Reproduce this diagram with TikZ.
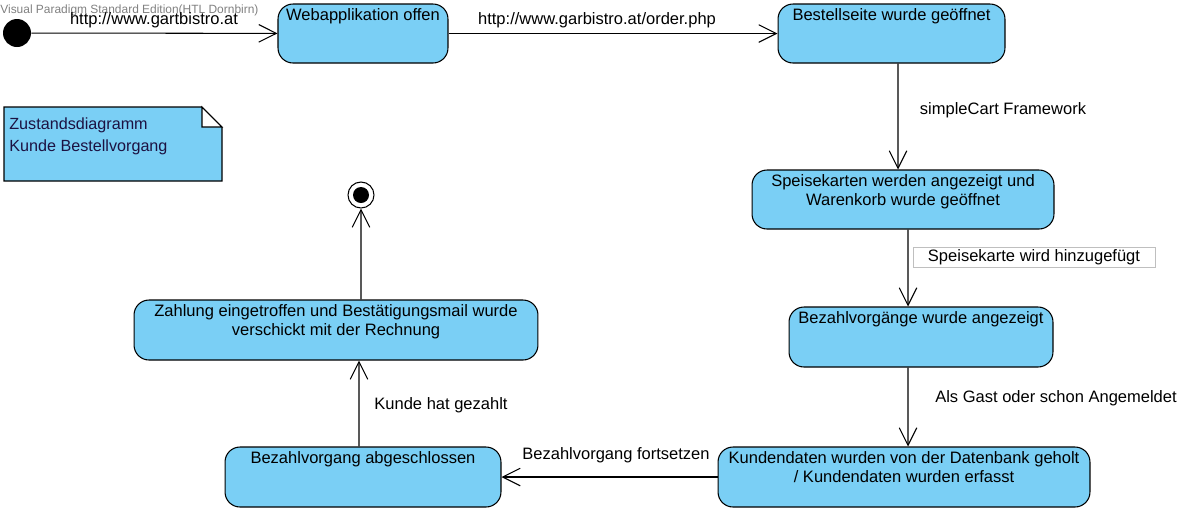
\documentclass[tikz,border=0pt]{standalone}
\usepackage{fontspec}
\setmainfont{Liberation Sans}
\usetikzlibrary{arrows.meta}
\definecolor{statefill}{RGB}{122,207,245}
\definecolor{notetext}{RGB}{28,18,66}

\begin{document}
\begin{tikzpicture}[x=0.02cm,y=-0.02cm,
  state/.style={draw,fill=statefill,rounded corners=0.3cm,line width=0.6pt,inner sep=0pt},
  statetext/.style={anchor=north,inner sep=0pt,align=center,font=\fontsize{9.4}{10.8}\selectfont},
  trans/.style={line width=0.6pt,-{Straight Barb[length=10pt,width=10pt]}},
  translbl/.style={inner sep=0pt,font=\fontsize{9.4}{10.8}\selectfont}]
\useasboundingbox (0,0) rectangle (1190,515);

\node[gray,anchor=west,inner sep=0pt,font=\fontsize{6.8}{8}\selectfont] (vp) at (0,10) {Visual Paradigm Standard Edition(HTL Dornbirn)};

% start / final
\node[circle,fill=black,minimum size=0.56cm,inner sep=0pt] (start) at (17,33) {};
\node[circle,draw,line width=0.6pt,minimum size=0.52cm,inner sep=0pt] (final) at (361,195) {};
\fill (final.center) circle (0.16cm);

% states
\node[state,minimum width=3.4cm,minimum height=1.18cm] (web) at (363,33.5) {};
\node[state,minimum width=4.54cm,minimum height=1.18cm] (bestell) at (891.5,33.5) {};
\node[state,minimum width=6.04cm,minimum height=1.18cm] (speise) at (903,199.5) {};
\node[state,minimum width=5.28cm,minimum height=1.2cm] (bezahl) at (921,337) {};
\node[state,minimum width=7.44cm,minimum height=1.2cm] (kunden) at (904,477) {};
\node[state,minimum width=5.52cm,minimum height=1.2cm] (abgeschl) at (363,477) {};
\node[state,minimum width=8.08cm,minimum height=1.2cm] (zahlung) at (336,330) {};

\node[statetext] (webt) at ([yshift=-0.1cm]web.north) {Webapplikation offen};
\node[statetext] (bestellt) at ([yshift=-0.1cm]bestell.north) {Bestellseite wurde geöffnet};
\node[statetext] (speiset) at ([yshift=-0.1cm]speise.north) {Speisekarten werden angezeigt und\\Warenkorb wurde geöffnet};
\node[statetext] (bezahlt) at ([yshift=-0.1cm]bezahl.north) {Bezahlvorgänge wurde angezeigt};
\node[statetext] (kundent) at ([yshift=-0.1cm]kunden.north) {Kundendaten wurden von der Datenbank geholt\\/ Kundendaten wurden erfasst};
\node[statetext] (abgeschlt) at ([yshift=-0.1cm]abgeschl.north) {Bezahlvorgang abgeschlossen};
\node[statetext] (zahlungt) at ([yshift=-0.1cm]zahlung.north) {Zahlung eingetroffen und Bestätigungsmail wurde\\verschickt mit der Rechnung};

% note
\fill[statefill] (4,107) -- (202,107) -- (222,127) -- (222,181) -- (4,181) -- cycle;
\draw[line width=0.6pt] (4,107) -- (202,107) -- (222,127) -- (222,181) -- (4,181) -- cycle;
\draw[line width=0.6pt,fill=white] (202,107) -- (222,127) -- (202,127) -- cycle;
\node[anchor=north west,inner sep=0pt,align=left,text=notetext,font=\fontsize{9.2}{12.5}\selectfont] (note) at (9,117) {Zustandsdiagramm\\Kunde Bestellvorgang};

% transitions
\draw[trans] (start) -- (web);
\draw[trans] (web) -- (bestell);
\draw[trans] ([xshift=0.13cm]bestell.south) -- ([xshift=-0.1cm]speise.north);
\draw[trans] ([xshift=0.1cm]speise.south) -- ([xshift=-0.26cm]bezahl.north);
\draw[trans] ([xshift=-0.26cm]bezahl.south) -- ([xshift=0.08cm]kunden.north);
\draw[trans] (kunden) -- (abgeschl);
\draw[trans] ([xshift=-0.08cm]abgeschl.north) -- ([xshift=0.46cm]zahlung.south);
\draw[trans] ([xshift=0.5cm]zahlung.north) -- (final);

% labels
\node[translbl] (l1) at (154,20) {http://www.gartbistro.at};
\node[translbl] (l2) at (597,20) {http://www.garbistro.at/order.php};
\node[translbl] (l3) at (1003,110) {simpleCart Framework};
\node[translbl,draw=black!25,fill=white,minimum width=4.84cm,minimum height=0.4cm] (l4) at (1034,257) {Speisekarte wird hinzugefügt};
\node[translbl] (l5) at (1056,398) {Als Gast oder schon Angemeldet};
\node[translbl] (l6) at (616,455) {Bezahlvorgang fortsetzen};
\node[translbl,fill=white,minimum width=3.24cm,minimum height=0.46cm] (l7) at (441,405) {Kunde hat gezahlt};
\end{tikzpicture}
\end{document}
